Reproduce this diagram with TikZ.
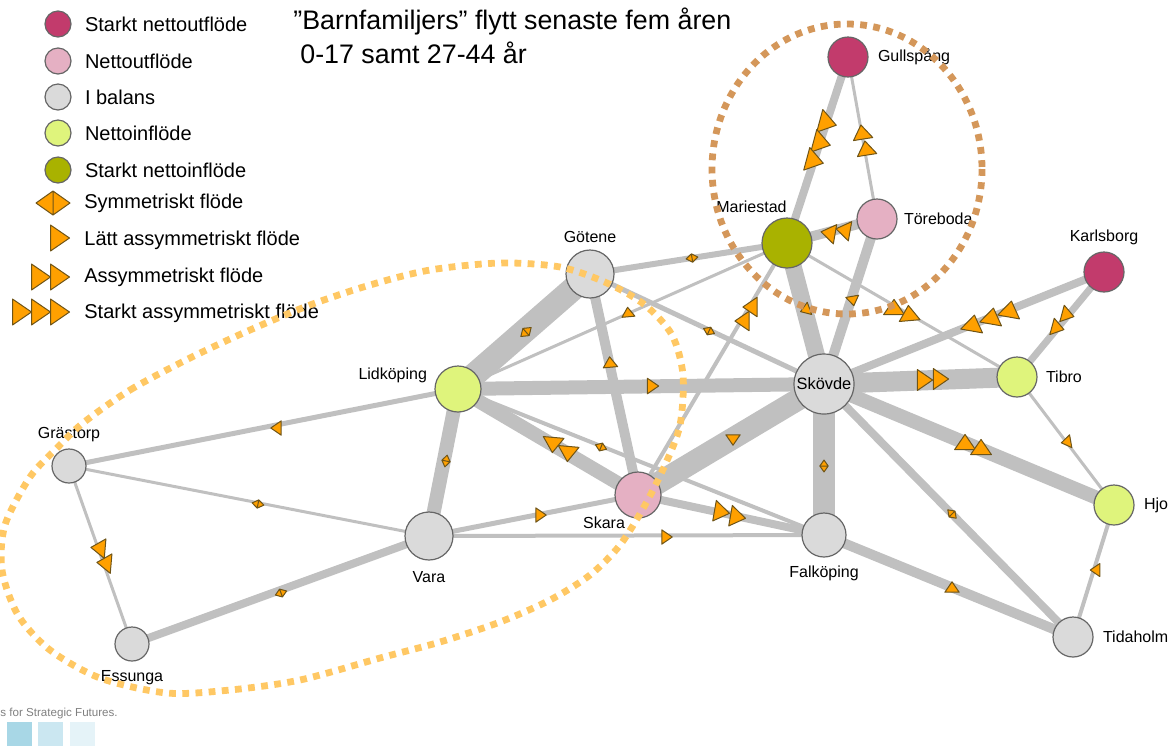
\documentclass[tikz,border=0pt]{standalone}
\usepackage{fontspec}
\setmainfont{Liberation Sans}
\usetikzlibrary{positioning}

\definecolor{starkutfarg}{HTML}{C23B6C}
\definecolor{utfarg}{HTML}{E5B0C3}
\definecolor{balansfarg}{HTML}{DADADA}
\definecolor{infarg}{HTML}{DFF47C}
\definecolor{starkinfarg}{HTML}{A9B200}
\definecolor{kantfarg}{HTML}{C0C0C0}
\definecolor{pilfarg}{HTML}{FFA000}
\definecolor{pilkant}{HTML}{6E5418}
\definecolor{brunprick}{HTML}{D4975A}
\definecolor{gulprick}{HTML}{FFC864}

\pgfdeclarelayer{bakgrund}
\pgfsetlayers{bakgrund,main}

\tikzset{
  kommun/.style={circle, draw=black!60, line width=0.6pt, inner sep=0pt},
  starkut/.style={kommun, fill=starkutfarg},
  netut/.style={kommun, fill=utfarg},
  balans/.style={kommun, fill=balansfarg},
  netin/.style={kommun, fill=infarg},
  starkin/.style={kommun, fill=starkinfarg},
  kant/.style={draw=kantfarg, line width=#1},
  legtext/.style={font=\fontsize{10}{12}\selectfont, inner sep=0pt},
  prickar/.style={line width=3.4pt, dash pattern=on 3.4pt off 3.2pt},
  pil/.pic={\draw[fill=pilfarg, draw=pilkant, line width=0.5pt, line join=round]
    (9.5,0) -- (-9.5,13) -- (-9.5,-13) -- cycle;},
  sym/.pic={\draw[fill=pilfarg, draw=pilkant, line width=0.5pt, line join=round]
    (17,0) -- (0,12) -- (-17,0) -- (0,-12) -- cycle (0,12) -- (0,-12);},
}

\begin{document}
\begin{tikzpicture}[x=0.5pt, y=-0.5pt,
    every label/.style={font=\fontsize{8}{9.6}\selectfont, inner sep=0pt}]
  \useasboundingbox (0,0) rectangle (1170,746);

  % Rubrik
  \node[anchor=base west, inner sep=0pt, font=\fontsize{13.4}{16}\selectfont] (rubrik) at (293,29) {”Barnfamiljers” flytt senaste fem åren};
  \node[anchor=base west, inner sep=0pt, font=\fontsize{13.4}{16}\selectfont] (rubrik2) at (300,63) {0-17 samt 27-44 år};

  % Teckenförklaring
  \node[starkut, minimum size=13pt] (ls1) at (58,24) {};
  \node[legtext, right=6.5pt of ls1] {Starkt nettoutflöde};
  \node[netut, minimum size=13pt] (ls2) at (58,61) {};
  \node[legtext, right=6.5pt of ls2] {Nettoutflöde};
  \node[balans, minimum size=13pt] (ls3) at (58,97) {};
  \node[legtext, right=6.5pt of ls3] {I balans};
  \node[netin, minimum size=13pt] (ls4) at (58,133) {};
  \node[legtext, right=6.5pt of ls4] {Nettoinflöde};
  \node[starkin, minimum size=13pt] (ls5) at (58,170) {};
  \node[legtext, right=6.5pt of ls5] {Starkt nettoinflöde};

  \pic at (53,203) {sym};
  \node[legtext, anchor=west] (lsym) at (84,203) {Symmetriskt flöde};
  \pic at (60,238) {pil};
  \node[legtext, anchor=west] (lpil1) at (84,240) {Lätt assymmetriskt flöde};
  \foreach \x in {41,60} \pic at (\x,277) {pil};
  \node[legtext, anchor=west] (lpil2) at (84,277) {Assymmetriskt flöde};
  \foreach \x in {22,41,60} \pic at (\x,312) {pil};
  \node[legtext, anchor=west] (lpil3) at (84,313) {Starkt assymmetriskt flöde};

  % Kommunerna
  \node[starkut, minimum size=20pt, label={[label distance=4.5pt]right:Gullspång}] (Gullspang) at (848,57) {};
  \node[netut, minimum size=20pt, label={[label distance=3pt]right:Töreboda}] (Toreboda) at (877,219) {};
  \node[starkin, minimum size=25pt, label={[anchor=south east, yshift=2pt]north:Mariestad}] (Mariestad) at (787,243) {};
  \node[balans, minimum size=24pt, label={[label distance=3pt]above:Götene}] (Gotene) at (590,274) {};
  \node[starkut, minimum size=20pt, label={[label distance=3pt]above:Karlsborg}] (Karlsborg) at (1104,272) {};
  \node[netin, minimum size=23pt, label={[xshift=-3.5pt, yshift=7pt]left:Lidköping}] (Lidkoping) at (458,389) {};
  \node[balans, minimum size=30pt, font=\fontsize{8.2}{10}\selectfont] (Skovde) at (824,384) {Skövde};
  \node[netin, minimum size=20pt, label={[label distance=4pt]right:Tibro}] (Tibro) at (1017,377) {};
  \node[balans, minimum size=17pt, label={[label distance=3pt]above:Grästorp}] (Grastorp) at (69,466) {};
  \node[netut, minimum size=23pt, label={[xshift=-17pt, yshift=1pt]below:Skara}] (Skara) at (638,495) {};
  \node[netin, minimum size=20pt, label={[label distance=4.5pt]right:Hjo}] (Hjo) at (1114,505) {};
  \node[balans, minimum size=24pt, label={[label distance=5pt]below:Vara}] (Vara) at (429,536) {};
  \node[balans, minimum size=22pt, label={[label distance=4pt]below:Falköping}] (Falkoping) at (824,535) {};
  \node[balans, minimum size=17pt, label={[label distance=4pt]below:Essunga}] (Essunga) at (132,644) {};
  \node[balans, minimum size=20pt, label={[label distance=4.5pt]right:Tidaholm}] (Tidaholm) at (1073,637) {};

  % Flyttströmmar
  \begin{pgfonlayer}{bakgrund}
    \draw[kant=4pt] (Gullspang.center) -- (Mariestad.center);
    \draw[kant=1.5pt] (Gullspang.center) -- (Toreboda.center);
    \draw[kant=5pt] (Toreboda.center) -- (Mariestad.center);
    \draw[kant=5pt] (Toreboda.center) -- (Skovde.center);
    \draw[kant=8.5pt] (Mariestad.center) -- (Skovde.center);
    \draw[kant=3pt] (Mariestad.center) -- (Gotene.center);
    \draw[kant=1.5pt] (Mariestad.center) -- (Lidkoping.center);
    \draw[kant=2pt] (Mariestad.center) -- (Skara.center);
    \draw[kant=1.5pt] (Mariestad.center) -- (Tibro.center);
    \draw[kant=12pt] (Gotene.center) -- (Lidkoping.center);
    \draw[kant=2.5pt] (Gotene.center) -- (Skovde.center);
    \draw[kant=5pt] (Gotene.center) -- (Skara.center);
    \draw[kant=7pt] (Lidkoping.center) -- (Skovde.center);
    \draw[kant=7pt] (Lidkoping.center) -- (Skara.center);
    \draw[kant=2pt] (Lidkoping.center) -- (Falkoping.center);
    \draw[kant=7pt] (Lidkoping.center) -- (Vara.center);
    \draw[kant=2.5pt] (Lidkoping.center) -- (Grastorp.center);
    \draw[kant=1.5pt] (Grastorp.center) -- (Vara.center);
    \draw[kant=1.5pt] (Grastorp.center) -- (Essunga.center);
    \draw[kant=4pt] (Essunga.center) -- (Vara.center);
    \draw[kant=2.5pt] (Vara.center) -- (Skara.center);
    \draw[kant=2pt] (Vara.center) -- (Falkoping.center);
    \draw[kant=11pt] (Skara.center) -- (Skovde.center);
    \draw[kant=4pt] (Skara.center) -- (Falkoping.center);
    \draw[kant=11pt] (Skovde.center) -- (Falkoping.center);
    \draw[kant=4pt] (Skovde.center) -- (Karlsborg.center);
    \draw[kant=10pt] (Skovde.center) -- (Tibro.center);
    \draw[kant=7pt] (Skovde.center) -- (Hjo.center);
    \draw[kant=4pt] (Skovde.center) -- (Tidaholm.center);
    \draw[kant=5pt] (Falkoping.center) -- (Tidaholm.center);
    \draw[kant=3.5pt] (Karlsborg.center) -- (Tibro.center);
    \draw[kant=1.5pt] (Tibro.center) -- (Hjo.center);
    \draw[kant=2pt] (Hjo.center) -- (Tidaholm.center);
  \end{pgfonlayer}

  % Pilar
  \foreach \p in {(828,123),(822,143),(815,161)} \pic[rotate=-15, scale=.9] at \p {pil};
  \foreach \p in {(862,132),(866,148)} \pic[rotate=99, scale=.75] at \p {pil};
  \foreach \p in {(828,233),(843,230)} \pic[rotate=170, scale=.75] at \p {pil};
  \pic[rotate=-80, scale=.5] at (853,301) {pil};
  \pic[rotate=200, scale=.5] at (805,310) {pil};
  \foreach \p in {(750,307),(742,321)} \pic[rotate=180, scale=.75] at \p {pil};
  \pic[rotate=90, scale=.8] at (894,307) {pil};
  \pic[rotate=95, scale=.8] at (909,313) {pil};
  \pic[rotate=95, scale=.5] at (628,312) {pil};
  \pic[rotate=95, scale=.55] at (610,362) {pil};
  \pic[scale=.6] at (653,386) {pil};
  \foreach \p in {(553,445),(568,454)} \pic[rotate=-95, scale=.8] at \p {pil};
  \pic[rotate=180, scale=.55] at (276,428) {pil};
  \foreach \p in {(98,548),(104,563)} \pic[rotate=175, scale=.75] at \p {pil};
  \pic[scale=.55] at (541,515) {pil};
  \pic[scale=.55] at (667,537) {pil};
  \pic[rotate=-90, scale=.55] at (733,440) {pil};
  \foreach \p in {(722,512),(738,517)} \pic[rotate=-10, scale=.8] at \p {pil};
  \foreach \p in {(973,323),(992,316),(1010,309)} \pic[rotate=80, scale=.85] at \p {pil};
  \foreach \p in {(925,380),(941,379)} \pic[scale=.8] at \p {pil};
  \foreach \p in {(965,442),(981,447)} \pic[rotate=90, scale=.8] at \p {pil};
  \pic[rotate=90, scale=.55] at (952,587) {pil};
  \foreach \p in {(1058,328),(1068,315)} \pic[rotate=-15, scale=.65] at \p {pil};
  \pic[rotate=190, scale=.5] at (1066,442) {pil};
  \pic[rotate=180, scale=.5] at (1095,570) {pil};

  % Symmetriska
  \pic[rotate=9, scale=.35] at (692,258) {sym};
  \pic[rotate=41, scale=.4] at (526,332) {sym};
  \pic[rotate=-25, scale=.35] at (709,331) {sym};
  \pic[rotate=-22, scale=.35] at (601,447) {sym};
  \pic[rotate=79, scale=.35] at (446,461) {sym};
  \pic[rotate=-11, scale=.35] at (258,504) {sym};
  \pic[rotate=20, scale=.35] at (281,593) {sym};
  \pic[rotate=90, scale=.35] at (824,466) {sym};
  \pic[rotate=-45, scale=.35] at (952,514) {sym};

  % Grupperna
  \draw[prickar, brunprick] (847,169) ellipse [x radius=135, y radius=145];
  \draw[prickar, gulprick] plot[smooth cycle] coordinates {
    (83,423) (130,390) (190,358) (250,330) (310,305) (370,285) (430,270)
    (500,263) (560,267) (607,283) (645,305) (672,335) (683,375) (680,425)
    (665,465) (645,505) (620,545) (590,575) (550,600) (500,622) (440,642)
    (380,658) (300,680) (230,690) (167,693) (100,678) (50,650) (18,615)
    (2,570) (5,525) (30,477) (57,448)};

  % Logga
  \node[anchor=west, inner sep=0pt, text=black!50, font=\fontsize{5.8}{7}\selectfont] (logga) at (0,713) {s for Strategic Futures.};
  \fill[color={rgb,255:red,168;green,215;blue,230}] (7,722) rectangle (32,746);
  \fill[color={rgb,255:red,203;green,231;blue,241}] (38,722) rectangle (63,746);
  \fill[color={rgb,255:red,229;green,243;blue,248}] (70,722) rectangle (95,746);
\end{tikzpicture}
\end{document}
